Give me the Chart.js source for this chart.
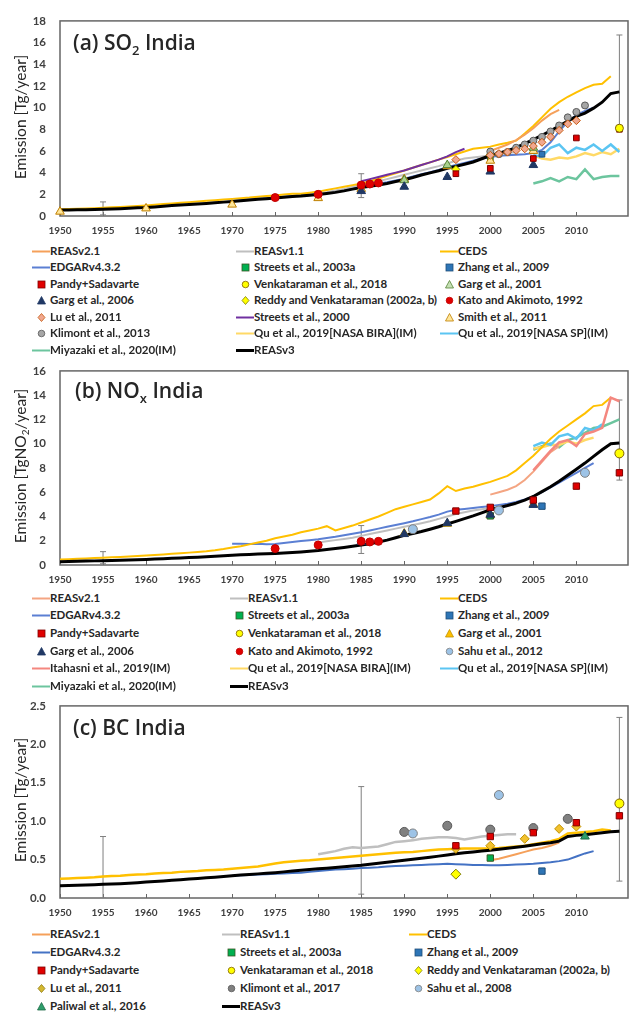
<!DOCTYPE html>
<html><head><meta charset="utf-8">
<script src="https://cdn.jsdelivr.net/npm/chart.js@4.4.1/dist/chart.umd.min.js"></script>
<style>
html,body{margin:0;padding:0;background:#fff;}
body{width:638px;height:1013px;position:relative;overflow:hidden;font-family:Lato,"Open Sans",sans-serif;}
canvas{position:absolute;left:0;}
.ttl{position:absolute;font-family:"Open Sans",sans-serif;font-weight:600;font-size:21px;color:#262626;line-height:24px;white-space:nowrap;}
.ttl sub{font-size:13px;vertical-align:-5px;line-height:0}
.ytl{position:absolute;font-family:Lato,sans-serif;font-size:15.5px;color:#262626;white-space:nowrap;transform:translate(-50%,-50%) rotate(-90deg);line-height:18px}
.ytl sub{font-size:10px;vertical-align:-3px;line-height:0}
.lg{position:absolute;height:14px;line-height:14px;font-family:Lato,sans-serif;font-weight:700;font-size:11.5px;color:#262626;white-space:nowrap;display:flex;align-items:center}
.lg svg{flex:none}
</style></head>
<body>
<canvas id="cA" width="638" height="240" style="top:0px"></canvas>
<canvas id="cB" width="638" height="239" style="top:350px"></canvas>
<canvas id="cC" width="638" height="237" style="top:685px"></canvas>
<div id="overlay"></div>
<script>
// ---------------- (a) SO2 ----------------
const so2_REASv3 = [0.55,0.56,0.57,0.58,0.60, 0.62,0.65,0.68,0.71,0.75, 0.78,0.84,0.90,0.96,1.01, 1.06,1.11,1.16,1.22,1.28, 1.34,1.40,1.47,1.55,1.60, 1.66,1.73,1.80,1.84,1.92, 1.98,2.08,2.18,2.32,2.48, 2.62,2.74,2.86,3.00,3.18, 3.35,3.55,3.78,3.98,4.18, 4.40,4.58,4.78,4.98,5.28, 5.58,5.80,6.02,6.30,6.68, 7.05,7.45,7.85,8.30,8.75, 9.20,9.50,9.95,10.50,11.30, 11.45]; // 1950-2015
const so2_CEDS = [0.62,0.64,0.66,0.69,0.72, 0.76,0.80,0.84,0.88,0.93, 0.98,1.04,1.10,1.16,1.22, 1.28,1.34,1.40,1.46,1.52, 1.58,1.64,1.70,1.78,1.84, 1.90,1.98,2.05,2.05,2.15, 2.25,2.40,2.55,2.70,2.85, 3.00,3.20,3.45,3.70,3.95, 4.20,4.45,4.70,4.95,5.20, 5.45,5.70,5.95,6.20,6.30, 6.40,6.60,6.75,6.95,7.60, 8.30,9.10,9.90,10.50,11.00, 11.40,11.80,12.10,12.20,12.90]; // 1950-2014
const so2_REASv21 = [6.0,6.3,6.6,7.0,7.5,8.1,8.8,9.4,9.8]; // 2000-2008
const so2_REASv11 = [2.1,2.2,2.35,2.5,2.7, 2.9,3.05,3.2,3.4,3.6, 3.8,4.0,4.2,4.4,4.6, 4.85,5.1,5.3,5.4,5.5, 5.6,5.7,5.8,5.9]; // 1980-2003
const so2_EDGAR = [1.38,1.45,1.52,1.58,1.63, 1.70,1.77,1.83,1.88,1.95, 2.02,2.12,2.24,2.38,2.55, 2.72,2.85,2.98,3.12,3.28, 3.45,3.65,3.85,4.05,4.25, 4.5,4.7,4.9,5.1,5.3, 5.45,5.55,5.6,5.65,5.7, 5.8,6.1,6.8,7.8,8.7, 9.3,9.7,10.0]; // 1970-2012
const so2_Streets2000 = [3.2,3.4,3.6,3.8,4.0,4.2,4.45,4.7,4.95,5.2,5.5,5.9,6.2]; // 1985-1997
const so2_QuBIRA = [5.6,5.3,5.2,5.4,5.3,5.5,5.8,5.6,5.9,5.7,6.2]; // 2005-2015
const so2_QuSP = [5.6,5.5,6.3,6.6,5.8,6.3,6.1,6.6,6.0,6.6,5.9]; // 2005-2015
const so2_Miyazaki = [3.0,3.2,3.5,3.2,3.6,3.4,4.3,3.4,3.6,3.7,3.7]; // 2005-2015
const so2_Pandy_yr = [1996,2000,2005,2010,2015], so2_Pandy = [3.9,4.4,5.3,7.2,8.0];
const so2_Zhang_yr = [2006], so2_Zhang = [5.7];
const so2_Streets03_yr = [2000], so2_Streets03 = [5.3];
const so2_Venk_yr = [2015], so2_Venk = [8.1];
const so2_Garg01_yr = [1990,1995,2000,2005], so2_Garg01 = [3.3,4.7,5.8,6.3];
const so2_Garg06_yr = [1985,1990,1995,2000,2005], so2_Garg06 = [2.3,2.7,3.6,4.1,4.7];
const so2_Reddy_yr = [1996], so2_Reddy = [4.3];
const so2_Kato_yr = [1975,1980,1985,1986,1987], so2_Kato = [1.7,2.0,2.85,2.95,3.05];
const so2_Lu_yr = [1996,2000,2001,2002,2003,2004,2005,2006,2007,2008,2009,2010], so2_Lu = [5.2,5.6,5.75,5.9,6.05,6.2,6.45,6.8,7.3,7.9,8.5,8.8];
const so2_Smith_yr = [1950,1960,1970,1980,1985,1990,1995,2000,2005], so2_Smith = [0.4,0.7,1.05,1.65,2.5,3.4,4.6,5.1,6.0];
const so2_Klimont_yr = [2000,2001,2002,2003,2004,2005,2006,2007,2008,2009,2010,2011], so2_Klimont = [5.95,5.7,5.9,6.3,6.6,6.95,7.3,7.8,8.35,9.1,9.6,10.2];
const so2_err_yr = [1955,1985,2015], so2_err_lo = [0.1,1.7,7.8], so2_err_hi = [1.3,3.9,16.7];
const so2_yTicks = [0,18,2];

// ---------------- (b) NOx ----------------
const nox_REASv3 = [0.27,0.29,0.30,0.32,0.34, 0.36,0.38,0.40,0.42,0.44, 0.46,0.49,0.52,0.55,0.58, 0.61,0.64,0.68,0.72,0.76, 0.80,0.84,0.87,0.90,0.92, 0.95,0.99,1.03,1.08,1.14, 1.20,1.28,1.36,1.45,1.55, 1.65,1.76,1.90,2.05,2.25, 2.45,2.60,2.76,2.95,3.15, 3.38,3.60,3.82,4.05,4.30, 4.55,4.72,4.90,5.10,5.35, 5.65,6.05,6.45,6.90,7.40, 7.90,8.40,8.95,9.50,10.00, 10.05]; // 1950-2015
const nox_CEDS = [0.45,0.48,0.51,0.54,0.57, 0.60,0.63,0.66,0.70,0.74, 0.78,0.82,0.87,0.92,0.97, 1.02,1.08,1.14,1.22,1.32, 1.45,1.55,1.70,1.85,2.00, 2.20,2.35,2.50,2.70,2.85, 3.00,3.20,2.85,3.05,3.25, 3.50,3.75,4.00,4.30,4.60, 4.80,5.00,5.20,5.40,5.90, 6.50,6.10,6.30,6.45,6.65, 6.85,7.10,7.35,7.80,8.40, 9.00,9.70,10.40,11.00,11.50, 12.00,12.50,13.10,13.20,13.80]; // 1950-2014
const nox_EDGAR = [1.75,1.75,1.73,1.75,1.72, 1.74,1.82,1.90,1.98,2.05, 2.12,2.22,2.32,2.45,2.58, 2.70,2.85,3.00,3.15,3.30, 3.45,3.60,3.78,3.95,4.15, 4.40,4.55,4.62,4.70,4.78, 4.85,4.95,5.05,5.20,5.40, 5.65,6.00,6.40,6.80,7.20, 7.60,8.00,8.40]; // 1970-2012
const nox_REASv11 = [1.85,1.95,2.05,2.15,2.25, 2.4,2.55,2.7,2.85,3.0, 3.15,3.3,3.45,3.6,3.8, 4.0,4.2,4.35,4.5,4.6, 4.7,4.8,4.9,5.0]; // 1980-2003
const nox_REASv21 = [5.8,6.0,6.2,6.5,7.0,7.7,8.5,9.3,9.8]; // 2000-2008
const nox_Itahashi = [7.8,8.6,9.4,10.1,10.3,9.8,10.8,11.0,11.3,13.8,13.5]; // 2005-2015
const nox_QuSP = [9.8,10.1,9.9,10.6,10.8,10.4,11.3,11.1,11.6]; // 2005-2013
const nox_QuBIRA = [9.6,9.7,9.9,9.9,10.2,10.0,10.3,10.5]; // 2005-2012
const nox_Miyazaki = [9.5,9.8,10.0,9.7,10.3,10.5,10.9,11.3,11.4,11.7,12.0]; // 2005-2015
const nox_Pandy_yr = [1996,2000,2005,2010,2015], nox_Pandy = [4.45,4.75,5.35,6.5,7.6];
const nox_Zhang_yr = [2006], nox_Zhang = [4.85];
const nox_Streets03_yr = [2000], nox_Streets03 = [4.05];
const nox_Venk_yr = [2015], nox_Venk = [9.2];
const nox_Garg01_yr = [1990,1995,2000,2005], nox_Garg01 = [2.6,3.4,4.1,5.0];
const nox_Garg06_yr = [1985,1990,1995,2000,2005], nox_Garg06 = [1.9,2.55,3.45,4.15,4.95];
const nox_Kato_yr = [1975,1980,1985,1986,1987], nox_Kato = [1.35,1.65,1.95,1.9,1.95];
const nox_Sahu_yr = [1991,2001,2011], nox_Sahu = [2.95,4.5,7.6];
const nox_err_yr = [1955,1985,2015], nox_err_lo = [0.1,0.95,7.0], nox_err_hi = [1.1,3.25,13.6];
const nox_yTicks = [0,16,2];

// ---------------- (c) BC ----------------
const bc_REASv3 = [0.160,0.163,0.166,0.170,0.174, 0.178,0.182,0.187,0.193,0.200, 0.207,0.214,0.222,0.230,0.238, 0.246,0.254,0.262,0.270,0.280, 0.290,0.298,0.306,0.314,0.322, 0.330,0.340,0.350,0.360,0.370, 0.380,0.388,0.397,0.406,0.415, 0.425,0.438,0.451,0.464,0.477, 0.490,0.503,0.517,0.531,0.545, 0.560,0.575,0.588,0.600,0.612, 0.620,0.633,0.646,0.660,0.674, 0.690,0.705,0.720,0.740,0.800, 0.815,0.822,0.835,0.850,0.862, 0.870]; // 1950-2015
const bc_CEDS = [0.25,0.255,0.26,0.265,0.27, 0.28,0.285,0.29,0.30,0.305, 0.31,0.32,0.325,0.33,0.34, 0.345,0.35,0.36,0.365,0.37, 0.38,0.39,0.40,0.41,0.43, 0.45,0.465,0.475,0.485,0.49, 0.50,0.51,0.52,0.53,0.54, 0.55,0.56,0.57,0.58,0.59, 0.595,0.60,0.61,0.62,0.63, 0.635,0.64,0.645,0.645,0.645, 0.645,0.65,0.66,0.67,0.68, 0.70,0.72,0.74,0.77,0.84, 0.85,0.86,0.87,0.89,0.88]; // 1950-2014
const bc_REASv11 = [0.57,0.59,0.61,0.64,0.66, 0.65,0.66,0.67,0.70,0.73, 0.74,0.75,0.77,0.78,0.79, 0.79,0.78,0.76,0.78,0.80, 0.81,0.82,0.83,0.83]; // 1980-2003
const bc_REASv21 = [0.49,0.51,0.54,0.57,0.60,0.63,0.65,0.68,0.72]; // 2000-2008
const bc_EDGAR = [0.29,0.295,0.30,0.305,0.31, 0.315,0.32,0.325,0.33,0.34, 0.35,0.36,0.37,0.375,0.38, 0.39,0.395,0.40,0.41,0.415, 0.42,0.425,0.43,0.435,0.44, 0.445,0.44,0.435,0.43,0.43, 0.425,0.425,0.43,0.435,0.44, 0.445,0.455,0.465,0.48,0.50, 0.54,0.58,0.61]; // 1970-2012
const bc_Pandy_yr = [1996,2000,2005,2010,2015], bc_Pandy = [0.68,0.80,0.85,0.98,1.07];
const bc_Streets03_yr = [2000], bc_Streets03 = [0.52];
const bc_Zhang_yr = [2006], bc_Zhang = [0.35];
const bc_Venk_yr = [2015], bc_Venk = [1.23];
const bc_Reddy_yr = [1996], bc_Reddy = [0.31];
const bc_Lu_yr = [1996,2000,2004,2008,2010], bc_Lu = [0.64,0.68,0.77,0.90,0.93];
const bc_Klimont_yr = [1990,1995,2000,2005,2009], bc_Klimont = [0.86,0.94,0.89,0.91,1.03];
const bc_Sahu_yr = [1991,2001], bc_Sahu = [0.84,1.34];
const bc_Paliwal_yr = [2011], bc_Paliwal = [0.80];
const bc_err_yr = [1955,1985,2015], bc_err_lo = [0.0,0.05,0.22], bc_err_hi = [0.8,1.45,2.35];
const bc_yTicks = [0,2.5,0.5];

const xTicks = [1950,2016,5];

// ---------------- helpers ----------------
const yrs = (start, arr) => arr.map((_, i) => start + i);
const pts = (xs, ys) => ys.map((v, i) => ({x: xs[i], y: v}));
function lineDS(xs, ys, color, w, order) {
  return {data: pts(xs, ys), showLine: true, borderColor: color, backgroundColor: color,
    borderWidth: w, pointRadius: 0, tension: 0, order: order};
}
function ptDS(xs, ys, style, fill, stroke, r) {
  return {data: pts(xs, ys), showLine: false, pointStyle: style, pointRadius: r,
    backgroundColor: fill, borderColor: stroke, pointBorderWidth: 1, order: 0, clip: false};
}
function errDS(yr, lo, hi) {
  return yr.map((y, i) => ({data: [{x: y, y: lo[i]}, {x: y, y: hi[i]}], showLine: true,
    borderColor: '#7f7f7f', borderWidth: 1, pointStyle: 'line', pointRadius: 3,
    pointBorderColor: '#7f7f7f', pointBorderWidth: 1, order: 9}));
}
const FONT = 'Lato, "Open Sans", sans-serif';
const framePlugin = {
  id: 'frame',
  beforeDatasetsDraw(chart) {
    const {ctx, chartArea: a, scales: {x}} = chart;
    ctx.save();
    ctx.strokeStyle = '#666'; ctx.lineWidth = 1.5;
    ctx.strokeRect(a.left, a.top, a.right - a.left, a.bottom - a.top);
    ctx.lineWidth = 1;
    x.ticks.forEach(t => {
      const px = Math.round(x.getPixelForValue(t.value)) + 0.5;
      ctx.beginPath(); ctx.moveTo(px, a.bottom); ctx.lineTo(px, a.bottom - 4); ctx.stroke();
    });
    ctx.restore();
  }
};
function makeChart(id, datasets, yT, dec) {
  return new Chart(document.getElementById(id), {
    type: 'scatter',
    data: {datasets},
    options: {
      responsive: false, animation: false, events: [],
      layout: {padding: {top: 18, right: 10, left: 0, bottom: 0}},
      plugins: {legend: {display: false}, tooltip: {enabled: false}},
      scales: {
        x: {type: 'linear', min: xTicks[0], max: xTicks[1],
          afterBuildTicks: s => { s.ticks = s.ticks.filter(t => t.value % 5 === 0); },
          afterFit: s => { s.height = 24; },
          ticks: {stepSize: xTicks[2], autoSkip: false, maxRotation: 0, padding: 9,
            color: '#404040', font: {family: FONT, size: 10, weight: 'bold'}, callback: v => String(v)},
          grid: {display: false, drawTicks: false}, border: {display: false}},
        y: {type: 'linear', min: yT[0], max: yT[1],
          afterFit: s => { s.width = 60; },
          ticks: {stepSize: yT[2], padding: 14, color: '#404040',
            font: {family: FONT, size: 11.5, weight: 'bold'}, callback: v => dec ? v.toFixed(dec) : String(v)},
          grid: {display: false, drawTicks: false}, border: {display: false}}
      }
    },
    plugins: [framePlugin]
  });
}

// ---------------- colours ----------------
const C = {
  reas21: '#F5A05A', reas21b: '#F4A582', reas11: '#BFBFBF', ceds: '#FFC000', edgar: '#5B7FD3',
  streets00: '#7030A0', quBira: '#FFD966', quSp: '#5BC5F2', miy: '#6CC59E', reas3: '#000000', ita: '#F4877F'
};

// ---------------- panel (a) ----------------
makeChart('cA', [
  ptDS(so2_Venk_yr, so2_Venk, 'circle', '#FFFF00', '#7F6000', 4),
  ptDS(so2_Pandy_yr, so2_Pandy, 'rect', '#E00000', '#7F0000', 4),
  ptDS(so2_Zhang_yr, so2_Zhang, 'rect', '#2E75B6', '#1F4E79', 4),
  ptDS(so2_Reddy_yr, so2_Reddy, 'rectRot', '#FFFF00', '#7F7F00', 4),
  ptDS(so2_Kato_yr, so2_Kato, 'circle', '#E00000', '#C00000', 4),
  ptDS(so2_Lu_yr, so2_Lu, 'rectRot', '#F0A890', '#C55A11', 4),
  ptDS(so2_Klimont_yr, so2_Klimont, 'circle', '#A6A6A6', '#595959', 3.5),
  ptDS(so2_Garg06_yr, so2_Garg06, 'triangle', '#203864', '#203864', 5),
  ptDS(so2_Garg01_yr, so2_Garg01, 'triangle', '#A9D18E', '#548235', 5),
  ptDS(so2_Smith_yr, so2_Smith, 'triangle', '#FFE699', '#BF7F00', 5),
  ptDS(so2_Streets03_yr, so2_Streets03, 'rect', '#00B050', '#375623', 4),
  lineDS(yrs(1950, so2_REASv3), so2_REASv3, C.reas3, 3, 1),
  lineDS(yrs(1985, so2_Streets2000), so2_Streets2000, C.streets00, 2, 2),
  lineDS(yrs(2000, so2_REASv21), so2_REASv21, C.reas21, 2, 2),
  lineDS(yrs(1950, so2_CEDS), so2_CEDS, C.ceds, 2, 3),
  lineDS(yrs(1980, so2_REASv11), so2_REASv11, C.reas11, 2, 3),
  lineDS(yrs(1970, so2_EDGAR), so2_EDGAR, C.edgar, 2, 3),
  lineDS(yrs(2005, so2_QuSP), so2_QuSP, C.quSp, 2.5, 3),
  lineDS(yrs(2005, so2_QuBIRA), so2_QuBIRA, C.quBira, 2.5, 3),
  lineDS(yrs(2005, so2_Miyazaki), so2_Miyazaki, C.miy, 2.5, 3),
  ...errDS(so2_err_yr, so2_err_lo, so2_err_hi)
], so2_yTicks, 0);

// ---------------- panel (b) ----------------
makeChart('cB', [
  ptDS(nox_Venk_yr, nox_Venk, 'circle', '#FFFF00', '#7F6000', 4.5),
  ptDS(nox_Pandy_yr, nox_Pandy, 'rect', '#E00000', '#7F0000', 4.5),
  ptDS(nox_Zhang_yr, nox_Zhang, 'rect', '#2E75B6', '#1F4E79', 4.5),
  ptDS(nox_Kato_yr, nox_Kato, 'circle', '#E00000', '#C00000', 4),
  ptDS(nox_Sahu_yr, nox_Sahu, 'circle', '#9DC3E6', '#7F7F7F', 4.5),
  ptDS(nox_Garg06_yr, nox_Garg06, 'triangle', '#203864', '#203864', 5),
  ptDS(nox_Streets03_yr, nox_Streets03, 'rect', '#00B050', '#375623', 4.5),
  ptDS(nox_Garg01_yr, nox_Garg01, 'triangle', '#FFC000', '#BF9000', 5),
  lineDS(yrs(1950, nox_REASv3), nox_REASv3, C.reas3, 3, 1),
  lineDS(yrs(2005, nox_Itahashi), nox_Itahashi, C.ita, 2.5, 2),
  lineDS(yrs(2000, nox_REASv21), nox_REASv21, C.reas21b, 2, 2),
  lineDS(yrs(1950, nox_CEDS), nox_CEDS, C.ceds, 2, 3),
  lineDS(yrs(1980, nox_REASv11), nox_REASv11, C.reas11, 2, 3),
  lineDS(yrs(1970, nox_EDGAR), nox_EDGAR, C.edgar, 2, 3),
  lineDS(yrs(2005, nox_QuSP), nox_QuSP, C.quSp, 2.5, 3),
  lineDS(yrs(2005, nox_QuBIRA), nox_QuBIRA, C.quBira, 2.5, 3),
  lineDS(yrs(2005, nox_Miyazaki), nox_Miyazaki, C.miy, 2.5, 3),
  ...errDS(nox_err_yr, nox_err_lo, nox_err_hi)
], nox_yTicks, 0);

// ---------------- panel (c) ----------------
makeChart('cC', [
  ptDS(bc_Venk_yr, bc_Venk, 'circle', '#FFFF00', '#7F6000', 4.5),
  ptDS(bc_Pandy_yr, bc_Pandy, 'rect', '#E00000', '#7F0000', 4.5),
  ptDS(bc_Lu_yr, bc_Lu, 'rectRot', '#F2C12E', '#BF9000', 4.5),
  ptDS(bc_Reddy_yr, bc_Reddy, 'rectRot', '#FFFF00', '#7F7F00', 5),
  ptDS(bc_Zhang_yr, bc_Zhang, 'rect', '#2E75B6', '#1F4E79', 4.5),
  ptDS(bc_Streets03_yr, bc_Streets03, 'rect', '#00B050', '#375623', 4.5),
  ptDS(bc_Paliwal_yr, bc_Paliwal, 'triangle', '#2E9E6B', '#1E6B48', 5),
  ptDS(bc_Sahu_yr, bc_Sahu, 'circle', '#9DC3E6', '#7F7F7F', 4.5),
  ptDS(bc_Klimont_yr, bc_Klimont, 'circle', '#808080', '#595959', 4.5),
  lineDS(yrs(1950, bc_REASv3), bc_REASv3, C.reas3, 3, 1),
  lineDS(yrs(2000, bc_REASv21), bc_REASv21, C.reas21, 2, 2),
  lineDS(yrs(1950, bc_CEDS), bc_CEDS, C.ceds, 2.5, 3),
  lineDS(yrs(1980, bc_REASv11), bc_REASv11, C.reas11, 2.5, 3),
  lineDS(yrs(1970, bc_EDGAR), bc_EDGAR, '#4472C4', 2, 3),
  ...errDS(bc_err_yr, bc_err_lo, bc_err_hi)
], bc_yTicks, 1);

// ---------------- overlay text ----------------
const ov = document.getElementById('overlay');
function addHTML(h) { ov.insertAdjacentHTML('beforeend', h); }
addHTML('<div class="ttl" style="left:73px;top:30px">(a) SO<sub>2</sub> India</div>');
addHTML('<div class="ttl" style="left:75px;top:378px">(b) NO<sub>x</sub> India</div>');
addHTML('<div class="ttl" style="left:73px;top:715px">(c) BC India</div>');
addHTML('<div class="ytl" style="left:20px;top:117px">Emission [Tg/year]</div>');
addHTML('<div class="ytl" style="left:20px;top:466px">Emission [TgNO<sub>2</sub>/year]</div>');
addHTML('<div class="ytl" style="left:20px;top:800px">Emission [Tg/year]</div>');

function marker(m) {
  const [t, f, s, w] = m;
  let inner = '';
  if (t === 'line') inner = `<line x1="0" y1="6.5" x2="18" y2="6.5" stroke="${f}" stroke-width="${w || 2}"/>`;
  else if (t === 'rect') inner = `<rect x="6" y="3" width="7" height="7" fill="${f}" stroke="${s}" stroke-width="0.8"/>`;
  else if (t === 'circle') inner = `<circle cx="9.5" cy="6.5" r="3.3" fill="${f}" stroke="${s}" stroke-width="0.8"/>`;
  else if (t === 'tri') inner = `<polygon points="9.5,2.5 13.5,10 5.5,10" fill="${f}" stroke="${s}" stroke-width="0.8"/>`;
  else if (t === 'dia') inner = `<polygon points="9.5,2.5 13,6.5 9.5,10.5 6,6.5" fill="${f}" stroke="${s}" stroke-width="0.8"/>`;
  return `<svg width="18" height="13" viewBox="0 0 18 13">${inner}</svg>`;
}
function legend(cols, rows, items) {
  items.forEach((it, i) => {
    const r = Math.floor(i / 3), c = i % 3;
    addHTML(`<div class="lg" style="left:${cols[c]}px;top:${rows[r] - 7}px">${marker(it[1])}<span>${it[0]}</span></div>`);
  });
}
legend([32, 236, 440], [251, 267, 284, 300, 317, 333, 350], [
  ['REASv2.1', ['line', C.reas21]], ['REASv1.1', ['line', C.reas11]], ['CEDS', ['line', C.ceds]],
  ['EDGARv4.3.2', ['line', C.edgar]], ['Streets et al., 2003a', ['rect', '#00B050', '#375623']], ['Zhang et al., 2009', ['rect', '#2E75B6', '#1F4E79']],
  ['Pandy+Sadavarte', ['rect', '#E00000', '#7F0000']], ['Venkataraman et al., 2018', ['circle', '#FFFF00', '#7F6000']], ['Garg et al., 2001', ['tri', '#C5E0B4', '#548235']],
  ['Garg et al., 2006', ['tri', '#203864', '#203864']], ['Reddy and Venkataraman (2002a, b)', ['dia', '#FFFF00', '#7F7F00']], ['Kato and Akimoto, 1992', ['circle', '#E00000', '#C00000']],
  ['Lu et al., 2011', ['dia', '#F0A890', '#C55A11']], ['Streets et al., 2000', ['line', C.streets00]], ['Smith et al., 2011', ['tri', '#FFE699', '#BF7F00']],
  ['Klimont et al., 2013', ['circle', '#A6A6A6', '#595959']], ['Qu et al., 2019[NASA BIRA](IM)', ['line', C.quBira]], ['Qu et al., 2019[NASA SP](IM)', ['line', C.quSp]],
  ['Miyazaki et al., 2020(IM)', ['line', C.miy]], ['REASv3', ['line', '#000', '#000', 3]]
]);
legend([32, 230, 440], [598, 615, 633, 651, 668, 686], [
  ['REASv2.1', ['line', C.reas21b]], ['REASv1.1', ['line', C.reas11]], ['CEDS', ['line', C.ceds]],
  ['EDGARv4.3.2', ['line', C.edgar]], ['Streets et al., 2003a', ['rect', '#00B050', '#375623']], ['Zhang et al., 2009', ['rect', '#2E75B6', '#1F4E79']],
  ['Pandy+Sadavarte', ['rect', '#E00000', '#7F0000']], ['Venkataraman et al., 2018', ['circle', '#FFFF00', '#7F6000']], ['Garg et al., 2001', ['tri', '#FFC000', '#BF9000']],
  ['Garg et al., 2006', ['tri', '#203864', '#203864']], ['Kato and Akimoto, 1992', ['circle', '#E00000', '#C00000']], ['Sahu et al., 2012', ['circle', '#9DC3E6', '#7F7F7F']],
  ['Itahasni et al., 2019(IM)', ['line', C.ita]], ['Qu et al., 2019[NASA BIRA](IM)', ['line', C.quBira]], ['Qu et al., 2019[NASA SP](IM)', ['line', C.quSp]],
  ['Miyazaki et al., 2020(IM)', ['line', C.miy]], ['REASv3', ['line', '#000', '#000', 3]]
]);
legend([32, 222, 409], [934, 952, 970, 988, 1006], [
  ['REASv2.1', ['line', C.reas21]], ['REASv1.1', ['line', C.reas11]], ['CEDS', ['line', C.ceds]],
  ['EDGARv4.3.2', ['line', '#4472C4']], ['Streets et al., 2003a', ['rect', '#00B050', '#375623']], ['Zhang et al., 2009', ['rect', '#2E75B6', '#1F4E79']],
  ['Pandy+Sadavarte', ['rect', '#E00000', '#7F0000']], ['Venkataraman et al., 2018', ['circle', '#FFFF00', '#7F6000']], ['Reddy and Venkataraman (2002a, b)', ['dia', '#FFFF00', '#7F7F00']],
  ['Lu et al., 2011', ['dia', '#D4B830', '#8F7A10']], ['Klimont et al., 2017', ['circle', '#808080', '#595959']], ['Sahu et al., 2008', ['circle', '#9DC3E6', '#7F7F7F']],
  ['Paliwal et al., 2016', ['tri', '#2E9E6B', '#1E6B48']], ['REASv3', ['line', '#000', '#000', 3]]
]);
</script>
</body></html>
